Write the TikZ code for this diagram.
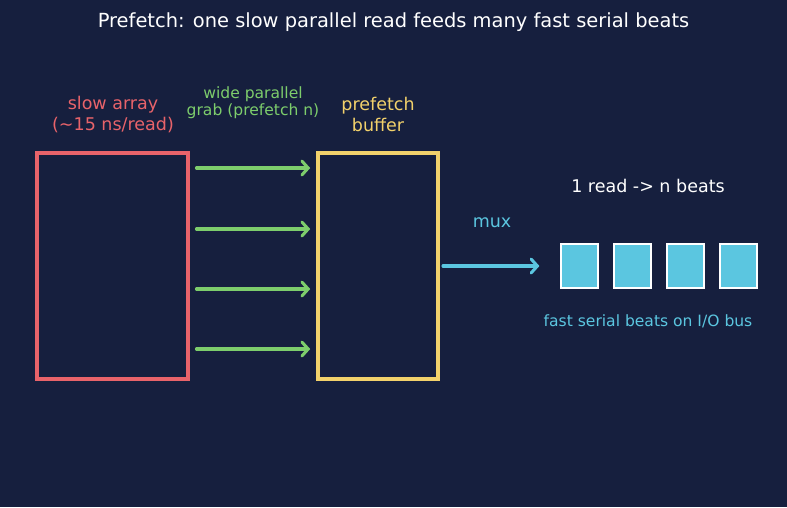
\documentclass[tikz,border=0pt]{standalone}
\usepackage{fontspec}
\setmainfont{DejaVu Sans}
\usepackage{tikz}
\usetikzlibrary{arrows.meta, positioning}
\definecolor{bgnavy}{HTML}{161F3E}
\definecolor{slowred}{HTML}{E8636A}
\definecolor{bufyellow}{HTML}{F2D16B}
\definecolor{grabgreen}{HTML}{7DCD6C}
\definecolor{muxcyan}{HTML}{5BC6E0}
\tikzset{
  blockbox/.style={draw, line width=2.2pt, minimum width=#1, minimum height=162.7pt, inner sep=0pt},
  beatbox/.style={draw=white, line width=1.1pt, fill=muxcyan, minimum width=26.6pt, minimum height=31.7pt, inner sep=0pt},
  wirearrow/.style={-{Straight Barb[length=4.5pt, width=10pt, line cap=round]}, line width=2.2pt, line cap=round},
  bigtext/.style={font=\fontsize{12.6}{15}\selectfont, align=center},
  smalltext/.style={font=\fontsize{11.2}{12.2}\selectfont, align=center}
}
\begin{document}
\begin{tikzpicture}[x=0.72pt, y=-0.72pt]
\fill[bgnavy] (0,0) rectangle (787,507);
\useasboundingbox (0,0) rectangle (787,507);

\node[white, font=\fontsize{14}{16}\selectfont] (title) at (393.5,22)
     {Prefetch: one slow parallel read feeds many fast serial beats};

% the two arrays
\node[blockbox=108.7pt, draw=slowred] (slow) at (112.5,266) {};
\node[bigtext, text=slowred] (slowlbl) at (113,114.5) {slow array\\(\textasciitilde15 ns/read)};

\node[blockbox=86.4pt, draw=bufyellow] (buf) at (378,266) {};
\node[bigtext, text=bufyellow] (buflbl) at (378,114.5) {prefetch\\buffer};

\node[smalltext, text=grabgreen] (grablbl) at (253,102.5) {wide parallel\\grab (prefetch n)};
\foreach \y in {168, 229, 289, 349}
  \draw[wirearrow, grabgreen] ([xshift=5pt]slow.east |- 0,\y) -- ([xshift=-4.5pt]buf.west |- 0,\y);

% serial side
\foreach \i/\x in {1/579.5, 2/632.5, 3/685.5, 4/738.5}
  \node[beatbox] (b\i) at (\x,266) {};

\node[bigtext, text=muxcyan] (muxlbl) at (492,223) {mux};
\draw[wirearrow, muxcyan] ([xshift=2.5pt]buf.east) -- ([xshift=-15pt]b1.west);

\node[bigtext, text=white] (ratio) at (648,186) {1 read -> n beats};
\node[smalltext, text=muxcyan] (buslbl) at (648,321.5) {fast serial beats on I/O bus};
\end{tikzpicture}
\end{document}
